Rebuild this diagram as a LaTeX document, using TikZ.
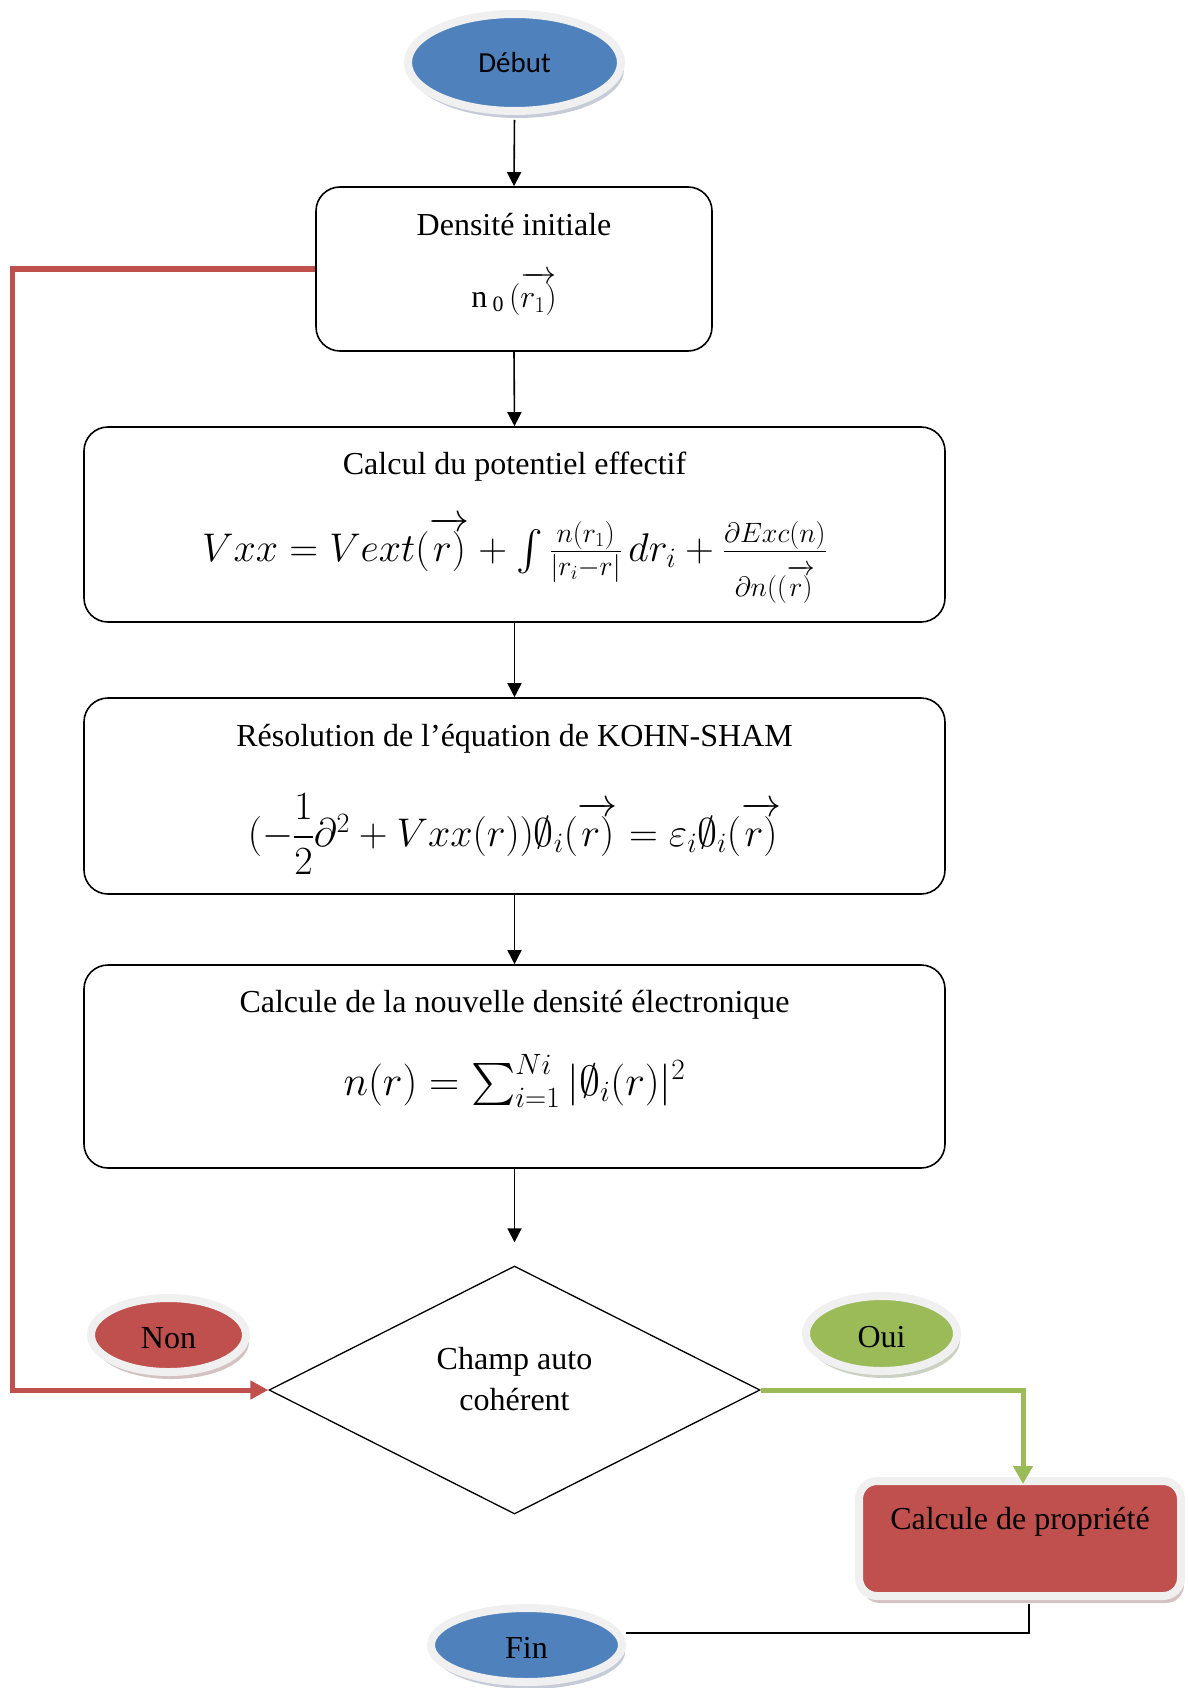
\RequirePackage{fix-cm}
\documentclass[tikz,border=0pt]{standalone}
\usepackage{amsmath}
\usepackage{amssymb}
\usepackage{fontspec}
\setmainfont{Liberation Serif}
\newfontfamily\calib{Carlito}
\usetikzlibrary{shapes.geometric,shadows,arrows.meta,calc}
\definecolor{cblue}{HTML}{4F81BD}
\definecolor{cred}{HTML}{C0504D}
\definecolor{cgreen}{HTML}{9BBB59}
\definecolor{ringc}{HTML}{F0F0F0}
\definecolor{shblue}{HTML}{7F8EA6}
\definecolor{shred}{HTML}{A07878}
\definecolor{shgreen}{HTML}{8A9A78}
\begin{document}
\begin{tikzpicture}[x=1pt,y=-1pt,
  txt/.style={inner sep=0pt,font=\fontsize{32}{40}\selectfont},
  eqn/.style={inner sep=0pt,font=\fontsize{40}{48}\selectfont},
  flowbox/.style={draw,line width=1.6pt,rounded corners=24pt,inner sep=0pt,minimum width=861pt},
  oval/.style={ellipse,draw=ringc,line width=8pt,inner sep=0pt,font=\fontsize{32}{38}\selectfont},
  blackarrow/.style={line width=1.6pt,-{Triangle[length=14pt,width=14pt]}},
  redline/.style={draw=cred,line width=5pt,-{Triangle[length=18pt,width=18pt]}},
  greenline/.style={draw=cgreen,line width=5pt,-{Triangle[length=18pt,width=19pt]}}]
\useasboundingbox (0,0) rectangle (1187,1688);

% start ellipse
\node[oval,fill=cblue,minimum width=213pt,minimum height=97pt,
  drop shadow={shadow xshift=3pt,shadow yshift=-7pt,opacity=.45,fill=shblue}]
  (debut) at (514.5,62.5) {\calib\fontsize{29}{34}\selectfont Début};

% boxes
\node[flowbox,minimum width=396pt,minimum height=164pt] (box1) at (514,269) {};
\node[txt] (t1) at (514,225) {Densité initiale};
\node[txt] (f1) at (514,294) {n\,\raisebox{-0.12em}{\fontsize{22}{22}\selectfont 0}\,$(\overrightarrow{r_1)}$};

\node[flowbox,minimum height=195pt] (box2) at (514.5,524.5) {};
\node[txt] (t2) at (514.5,467) {Calcul du potentiel effectif};
\node[eqn] (f2) at (514.5,560) {$Vxx = Vext(\overrightarrow{r)} + \int \frac{n(r_1)}{|r_i-r|}\,dr_i + \frac{\partial Exc(n)}{\rule{0pt}{1.05em}\partial n((\overrightarrow{r)}}$};

\node[flowbox,minimum height=196pt] (box3) at (514.5,796) {};
\node[txt] (t3) at (514.5,739) {Résolution de l’équation de KOHN-SHAM};
\node[eqn] (f3) at (514.5,834) {$(-\dfrac{1}{2}\partial^2 + Vxx(r))\emptyset_i(\overrightarrow{r)} = \varepsilon_i\emptyset_i(\overrightarrow{r)}$};

\node[flowbox,minimum height=203pt] (box4) at (514.5,1066.5) {};
\node[txt] (t4) at (514.5,1005) {Calcule de la nouvelle densité électronique};
\node[eqn,font=\fontsize{42}{50}\selectfont] (f4) at (514.5,1081) {$n(r) = \sum_{i=1}^{Ni} |\emptyset_i(r)|^2$};

% decision
\node[draw,diamond,line width=1.3pt,minimum width=491pt,minimum height=248pt,inner sep=0pt] (dia) at (514.5,1390) {};
\node[txt,align=center,font=\fontsize{32}{41}\selectfont] (dtext) at (514.5,1379) {Champ auto\\cohérent};

% labels
\node[oval,fill=cred,minimum width=155pt,minimum height=74pt,
  drop shadow={shadow xshift=3pt,shadow yshift=-7pt,opacity=.45,fill=shred}]
  (non) at (168.5,1335) {\raisebox{-0.42em}[0pt][0pt]{Non}};
\node[oval,fill=cgreen,minimum width=151pt,minimum height=75pt,
  drop shadow={shadow xshift=3pt,shadow yshift=-7pt,opacity=.45,fill=shgreen}]
  (oui) at (881.5,1333.5) {\raisebox{-0.45em}[0pt][0pt]{Oui}};

% property box
\node[draw=ringc,line width=8pt,fill=cred,rounded corners=18pt,minimum width=322pt,minimum height=115pt,inner sep=0pt,
  drop shadow={shadow xshift=3pt,shadow yshift=-7pt,opacity=.45,fill=shred}]
  (prop) at (1020,1538.5) {};
\node[txt] (ptext) at (1020,1522) {Calcule de propriété};

% end ellipse
\node[oval,fill=cblue,minimum width=191pt,minimum height=74pt,
  drop shadow={shadow xshift=3pt,shadow yshift=-7pt,opacity=.45,fill=shblue}]
  (fin) at (526.5,1645) {\raisebox{-0.42em}[0pt][0pt]{Fin}};

% coordinates
\coordinate (rc) at (12,269);
\coordinate (gp) at (1023,1484);
\coordinate (fc) at (1029,1633);
\coordinate (pb) at (1029,1604);

% connectors
\draw[blackarrow,shorten <=5pt] (debut.south) -- (box1.north);
\draw[blackarrow] (box1.south) -- (box2.north);
\draw[blackarrow] (box2.south) -- (box3.north);
\draw[blackarrow] (box3.south) -- (box4.north);
\draw[blackarrow,shorten >=23pt] (box4.south) -- (dia.north);
\draw[redline] (box1.west) -- (rc) |- (dia.west);
\draw[greenline] (dia.east) -| (gp);
\draw[line width=1.6pt] (fin.east |- fc) -- (fc) -- (pb);
\end{tikzpicture}
\end{document}
